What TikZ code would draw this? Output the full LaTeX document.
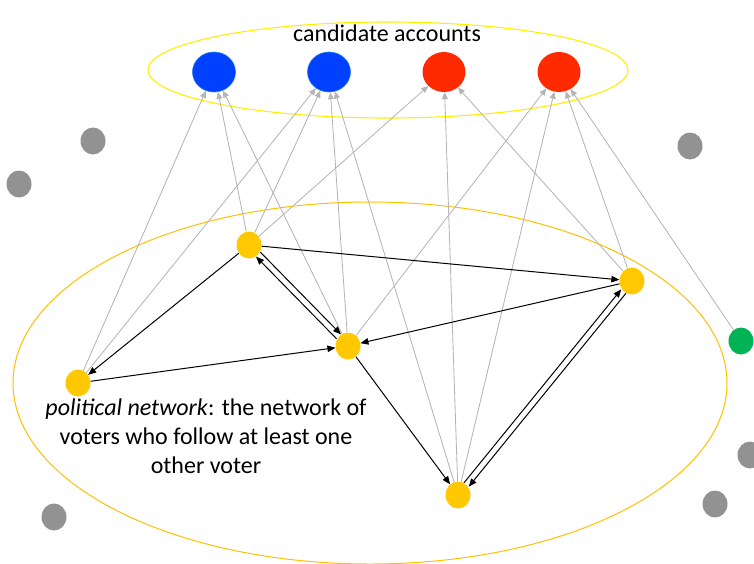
\documentclass[tikz,border=0pt]{standalone}
\usepackage{fontspec}
\setmainfont{Carlito}
\usetikzlibrary{arrows.meta,shapes.geometric}
\definecolor{candblue}{HTML}{0041FF}
\definecolor{candblueedge}{HTML}{1E7BEF}
\definecolor{candred}{HTML}{FF2A00}
\definecolor{voteryellow}{HTML}{FFC800}
\definecolor{netyellow}{HTML}{FFC000}
\definecolor{topyellow}{HTML}{FFF000}
\definecolor{othergreen}{HTML}{00B456}
\definecolor{othergray}{HTML}{929292}
\definecolor{followgray}{HTML}{B5B5B5}
\tikzset{
  dot/.style={shape=ellipse, inner sep=0pt, minimum width=25pt, minimum height=27pt, draw=none},
  cand/.style={shape=ellipse, inner sep=0pt, minimum width=43pt, minimum height=40pt},
  bluecand/.style={cand, fill=candblue, draw=candblueedge, line width=0.6pt},
  redcand/.style={cand, fill=candred},
  voter/.style={dot, fill=voteryellow},
  outsider/.style={dot, fill=othergray},
  greenvoter/.style={dot, fill=othergreen},
  follows/.style={draw=followgray, line width=0.85pt, -{Triangle[length=7pt,width=6pt]}},
  votlink/.style={draw=black, line width=1pt, -{Triangle[length=8pt,width=6.5pt]}},
  label/.style={font=\fontsize{24}{29}\selectfont, anchor=base, inner sep=0pt}
}
\begin{document}
\begin{tikzpicture}[x=1pt,y=-1pt]
\path[use as bounding box] (0,0) rectangle (754,563);

% enclosing ellipses
\draw[topyellow, line width=1.1pt] (388,70) ellipse [x radius=240, y radius=48];
\draw[netyellow, line width=1pt] (370,383) ellipse [x radius=357, y radius=181];

% candidate accounts
\node[bluecand] (c1) at (214,72) {};
\node[bluecand] (c2) at (329,72) {};
\node[redcand]  (c3) at (444,72) {};
\node[redcand]  (c4) at (559,72) {};
\node[label] (ctitle) at (387,41) {candidate accounts};

% voters in the political network
\node[voter] (v1) at (249,245) {};
\node[voter] (v2) at (348,346) {};
\node[voter] (v3) at (78,383) {};
\node[voter] (v4) at (632,281) {};
\node[voter] (v5) at (458,495) {};
\node[greenvoter] (g) at (741,341) {};

% voters outside any network
\node[outsider] (o1) at (93,141) {};
\node[outsider] (o2) at (19,184) {};
\node[outsider] (o3) at (690,146) {};
\node[outsider] (o4) at (750,455) {};
\node[outsider] (o5) at (715,504) {};
\node[outsider] (o6) at (54,517) {};

% caption
\node[label] (t1) at (206,415) {\textit{political network}: the network of};
\node[label] (t2) at (206,444) {voters who follow at least one};
\node[label] (t3) at (206,473) {other voter};

% voters following candidates
\draw[follows] (v3) -- (c1);
\draw[follows] (v1) -- (c1);
\draw[follows] (v2) -- (c1);
\draw[follows] (v3) -- (c2);
\draw[follows] (v1) -- (c2);
\draw[follows] (v2) -- (c2);
\draw[follows] (v5) -- (c2);
\draw[follows] (v1) -- (c3);
\draw[follows] (v5) -- (c3);
\draw[follows] (v4) -- (c3);
\draw[follows] (v2) -- (c4);
\draw[follows] (v5) -- (c4);
\draw[follows] (v4) -- (c4);
\draw[follows] (g) -- (c4);

% voters following voters
\draw[votlink] (v1) -- (v3);
\draw[votlink] (v3) -- (v2);
\draw[votlink] (v1) -- (v4);
\draw[votlink] (v4) -- (v2);
\draw[votlink] (v2) -- (v5);
\draw[votlink, transform canvas={shift={(2.2,-2.2)}}] (v1) -- (v2);
\draw[votlink, transform canvas={shift={(-2.2,2.2)}}] (v2) -- (v1);
\draw[votlink, transform canvas={shift={(-2.4,-1.9)}}] (v5) -- (v4);
\draw[votlink, transform canvas={shift={(2.4,1.9)}}] (v4) -- (v5);
\end{tikzpicture}
\end{document}
